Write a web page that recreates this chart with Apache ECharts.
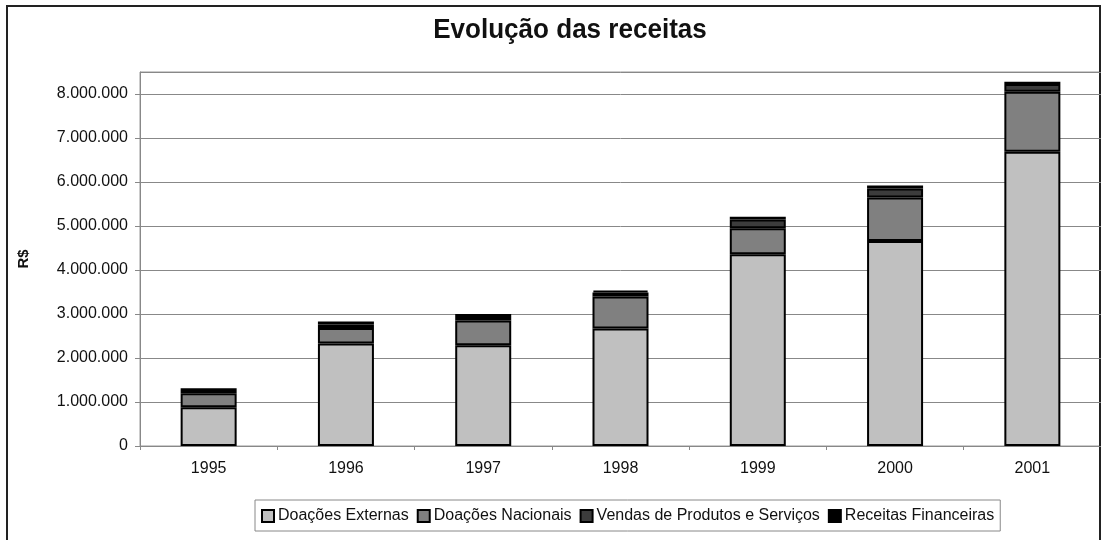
<!DOCTYPE html>
<html>
<head>
<meta charset="utf-8">
<script src="https://cdn.jsdelivr.net/npm/echarts@6/dist/echarts.min.js"></script>
<style>
  html, body { margin: 0; padding: 0; background: #fff; }
  #chart { width: 1101px; height: 540px; }
</style>
</head>
<body>
<div id="chart"></div>
<script>
var anos = ['1995', '1996', '1997', '1998', '1999', '2000', '2001']
var doacoesExternas = [880000, 2330000, 2290000, 2670000, 4360000, 4660000, 6690000]
var doacoesNacionais = [320000, 350000, 560000, 730000, 590000, 990000, 1360000]
var vendas = [50000, 80000, 80000, 90000, 200000, 200000, 180000]
var receitasFinanceiras = [60000, 70000, 70000, 40000, 60000, 70000, 50000]

function fmt(v) {
  return String(v).replace(/\B(?=(\d{3})+(?!\d))/g, '.')
}

function serie(nome, dados, cor) {
  return {
    name: nome,
    type: 'bar',
    stack: 'total',
    barWidth: 56,
    data: dados,
    itemStyle: { color: cor, borderColor: '#000', borderWidth: 2 }
  }
}

var myChart = echarts.init(document.getElementById('chart'))
var option = {
  animation: false,
  textStyle: { fontFamily: 'Liberation Sans, Arial, sans-serif' },
  graphic: [
    {
      type: 'rect',
      shape: { x: 7, y: 6, width: 1093, height: 560 },
      style: { fill: 'none', stroke: '#222', lineWidth: 2 },
      silent: true
    },
    {
      // titulo condensado (Arial Narrow no original)
      type: 'text',
      x: 570,
      y: 30,
      scaleX: 0.93,
      style: {
        text: 'Evolução das receitas',
        font: 'bold 28px "Liberation Sans", Arial, sans-serif',
        fill: '#111',
        align: 'center',
        verticalAlign: 'middle'
      },
      silent: true
    }
  ],
  grid: {
    left: 140,
    top: 72,
    width: 968,
    bottom: 94,
    show: true,
    borderColor: '#999',
    borderWidth: 1
  },
  legend: {
    left: 255,
    top: 500,
    itemWidth: 12,
    itemHeight: 12,
    itemGap: 8,
    padding: [8, 6, 7, 6],
    borderColor: '#888',
    borderWidth: 1,
    icon: 'rect',
    textStyle: { fontSize: 16, color: '#111', padding: [0, 0, 0, -1] },
    data: ['Doações Externas', 'Doações Nacionais', 'Vendas de Produtos e Serviços', 'Receitas Financeiras']
  },
  xAxis: {
    type: 'category',
    data: anos,
    axisLine: { lineStyle: { color: '#888' } },
    axisTick: { show: true, length: 4, lineStyle: { color: '#888' } },
    axisLabel: { fontSize: 16, color: '#111', margin: 15 }
  },
  yAxis: {
    type: 'value',
    min: 0,
    max: 8500000,
    interval: 1000000,
    name: 'R$',
    nameLocation: 'middle',
    nameGap: 109,
    nameTextStyle: { fontSize: 15, fontWeight: 'bold', color: '#111' },
    axisLine: { show: true, lineStyle: { color: '#888' } },
    axisTick: { show: true, length: 5, lineStyle: { color: '#888' } },
    axisLabel: {
      fontSize: 16,
      color: '#111',
      margin: 12,
      showMaxLabel: false,
      formatter: function (v) { return v % 1000000 === 0 ? fmt(v) : '' }
    },
    splitLine: { lineStyle: { color: '#888', width: 1 } }
  },
  series: [
    serie('Doações Externas', doacoesExternas, '#c0c0c0'),
    serie('Doações Nacionais', doacoesNacionais, '#808080'),
    serie('Vendas de Produtos e Serviços', vendas, '#3c3c3c'),
    serie('Receitas Financeiras', receitasFinanceiras, '#000')
  ]
}
option && myChart.setOption(option)
</script>
</body>
</html>
